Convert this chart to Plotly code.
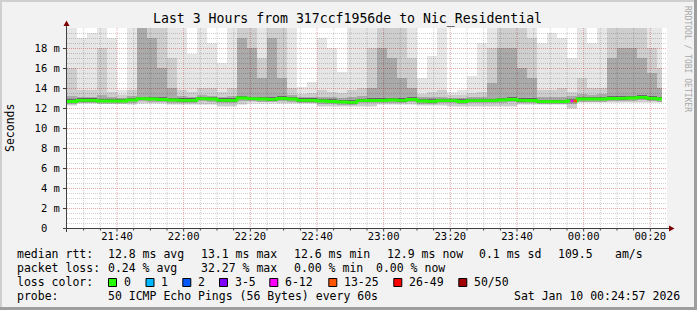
import plotly.graph_objects as go
import pandas as pd
import numpy as np

# ---------------- data ----------------
TITLE = "Last 3 Hours from 317ccf1956de to Nic_Residential"
col_start = pd.date_range("2026-01-09 21:25:00", periods=60, freq="3min")
data_end = pd.Timestamp("2026-01-10 00:23:30")
x_range = ["2026-01-09 21:25:00", "2026-01-10 00:25:00"]

# smoke (ms): top of light smoke, top of mid smoke, top of dark smoke, bottom of smoke
smoke_max = [20, 19, 19.5, 20, 19, 13.8, 20, 20, 20, 20,
             20, 20, 17.4, 20, 18.5, 16.5, 20, 20, 20, 20,
             20, 20, 20, 14.1, 14.6, 19, 18, 15.6, 20, 20,
             20, 20, 20, 20, 20, 15, 17.2, 20, 13.6, 13.8,
             15.2, 18.5, 20, 20, 20, 20, 20, 18.5, 19.5, 19,
             17, 20, 18.5, 20, 20, 20, 20, 20, 20, 20]
smoke_mid = [16, 13.8, 13.8, 18, 13.6, 13.3, 13.8, 20, 20, 20,
             17, 13.8, 13.6, 14, 14, 13.6, 14, 20, 20, 17,
             20, 20, 14, 13.4, 13.5, 13.8, 13.6, 13.5, 13.8, 14,
             18, 20, 20, 20, 17, 13.4, 13.6, 13.8, 13.3, 13.3,
             13.5, 13.6, 18, 20, 20, 20, 19, 13.8, 13.8, 14,
             13.6, 15, 14, 14, 20, 20, 20, 20, 18, 16]
smoke_dark = [13.2, 13.15, 13.15, 13.3, 13.15, 13.05, 13.25, 20, 19, 16,
              14, 13.2, 13.15, 13.3, 13.25, 13.15, 13.2, 19, 18, 15,
              19, 15, 13.3, 13.1, 13.1, 13.15, 13.1, 13.05, 13.1, 13.2,
              14, 18, 17, 15, 14, 13.1, 13.1, 13.15, 13.05, 13.05,
              13.1, 13.15, 14.5, 18, 18, 16, 15, 13.15, 13.15, 13.15,
              13.2, 13.4, 13.3, 13.4, 17, 18, 18, 17, 15.5, 14]
smoke_low = [12.23, 12.4, 12.4, 12.4, 12.4, 12.4, 12.3, 12.4, 12.4, 12.4,
             12.3, 12.3, 12.3, 12.3, 12.3, 12.13, 12.13, 12.3, 12.45, 12.45,
             12.45, 12.4, 12.4, 12.4, 12.4, 12.13, 12.13, 12.13, 12.13, 12.13,
             12.07, 12.3, 12.3, 12.3, 12.3, 12.23, 12.23, 12.23, 12.13, 12.13,
             12.13, 12.13, 12.13, 12.13, 12.13, 12.33, 12.33, 12.27, 12.27, 12.27,
             11.9, 12.5, 12.5, 12.5, 12.5, 12.5, 12.5, 12.5, 12.5, 12.5]
median_rtt = [12.65, 12.77, 12.77, 12.7, 12.7, 12.7, 12.8, 12.93, 12.9, 12.85,
              12.8, 12.77, 12.77, 12.93, 12.9, 12.77, 12.77, 13.0, 12.93, 12.9,
              12.87, 12.95, 12.9, 12.77, 12.77, 12.7, 12.65, 12.6, 12.57, 12.73,
              12.75, 12.75, 12.8, 12.77, 12.85, 12.7, 12.67, 12.73, 12.73, 12.65,
              12.73, 12.73, 12.73, 12.8, 12.85, 12.77, 12.75, 12.63, 12.63, 12.63,
              12.7, 12.9, 12.9, 12.9, 12.95, 12.97, 13.0, 13.07, 12.97, 12.9]

loss_start = ["2026-01-09 23:56:00", "2026-01-09 23:57:00"]
loss_end = ["2026-01-09 23:57:00", "2026-01-09 23:58:00"]
loss_count = [8, 16]

loss_labels = ["0", "1", "2", "3-5", "6-12", "13-25", "26-49", "50/50"]
loss_upper = [0, 1, 2, 5, 12, 25, 49, 50]
loss_colors = ["#26ff00", "#00b8ff", "#0059ff", "#7e00ff", "#ff00ff", "#ff5500", "#ff0000", "#a10000"]

y_ticks = [0, 2, 4, 6, 8, 10, 12, 14, 16, 18]
y_ticktext = ["0\u00a0\u00a0"] + [f"{v} m" for v in y_ticks[1:]]

rtt_stats = ["12.8 ms avg", "13.1 ms max", "12.6 ms min", "12.9 ms now", "0.1 ms sd", "109.5", "am/s"]
loss_stats = ["0.24 % avg", "32.27 % max", "0.00 % min", "0.00 % now"]
probe_text = "50 ICMP Echo Pings (56 Bytes) every 60s"
stamp_text = "Sat Jan 10 00:24:57 2026"

# ---------------- geometry helpers (pixels -> paper) ----------------
W, H = 697, 310
PL, PR, PT, PB = 67, 667, 28, 228
def px(x):
    return (x - PL) / (PR - PL)
def py(y):
    return (PB - y) / (PB - PT)

MONO = "DejaVu Sans Mono"

edges = list(col_start) + [data_end]
widths = [(edges[i + 1] - edges[i]).total_seconds() * 1000 for i in range(len(col_start))]
centers = [edges[i] + (edges[i + 1] - edges[i]) / 2 for i in range(len(col_start))]

med = np.array(median_rtt)
low = np.array(smoke_low)

fig = go.Figure()

def band(lo, hi, color):
    lo = np.asarray(lo, dtype=float)
    hi = np.asarray(hi, dtype=float)
    fig.add_trace(go.Bar(x=centers, y=hi - lo, base=lo, width=widths,
                         marker=dict(color=color, line=dict(width=0)),
                         hoverinfo="skip", showlegend=False))

band(low, smoke_max, "rgba(0,0,0,0.098)")
band(low + 0.12, smoke_mid, "rgba(0,0,0,0.10)")
band(med - 0.25, smoke_dark, "rgba(0,0,0,0.174)")
band(med - 0.12, med + 0.22, "rgba(0,0,0,0.36)")

fig.add_trace(go.Scatter(x=edges, y=list(median_rtt) + [median_rtt[-1]], mode="lines",
                         line=dict(color=loss_colors[0], width=2.8, shape="hv"),
                         hoverinfo="skip", showlegend=False))

def loss_color(n):
    for up, c in zip(loss_upper, loss_colors):
        if n <= up:
            return c
    return loss_colors[-1]

for s, e, n in zip(loss_start, loss_end, loss_count):
    ts = pd.Timestamp(s)
    idx = max(i for i in range(len(col_start)) if col_start[i] <= ts)
    fig.add_trace(go.Scatter(x=[s, e], y=[median_rtt[idx]] * 2, mode="lines",
                             line=dict(color=loss_color(n), width=2.8),
                             hoverinfo="skip", showlegend=False))

grid_minor = "rgba(143,143,143,0.42)"
grid_major = "rgba(222,80,80,0.5)"

y_minor = [v for v in np.arange(0.5, 20.0, 0.5) if abs(v / 2 - round(v / 2)) > 1e-9]

fig.update_layout(
    width=W, height=H,
    margin=dict(l=PL, r=W - PR, t=PT, b=H - PB),
    paper_bgcolor="#f2f2f2", plot_bgcolor="#ffffff",
    barmode="overlay", bargap=0,
    showlegend=False,
    font=dict(family=MONO, color="#000000"),
    xaxis=dict(type="date", range=x_range, tickformat="%H:%M",
               tick0="2026-01-09 21:40:00", dtick=1200000,
               showgrid=False, ticks="",
               tickfont=dict(family=MONO, size=10.5, color="#000"),
               showline=False, zeroline=False, fixedrange=True),
    yaxis=dict(range=[0, 20], tickvals=y_ticks, ticktext=y_ticktext,
               showgrid=True, gridcolor=grid_major, griddash="1px,1px", gridwidth=1,
               ticks="outside", ticklen=3, tickcolor="#404040",
               ticklabelstandoff=1,
               tickfont=dict(family=MONO, size=10.5, color="#000"),
               minor=dict(tickmode="array", tickvals=y_minor, showgrid=True,
                          gridcolor=grid_minor, griddash="1px,1px", gridwidth=1),
               showline=False, zeroline=False, fixedrange=True),
)

shapes = []
def line_px(x0, y0, x1, y1, color, width, layer="above", dash="solid"):
    shapes.append(dict(type="line", xref="paper", yref="paper",
                       x0=px(x0), y0=py(y0), x1=px(x1), y1=py(y1),
                       line=dict(color=color, width=width, dash=dash), layer=layer))
def poly_px(points, color):
    d = "M " + " L ".join(f"{px(a)},{py(b)}" for a, b in points) + " Z"
    shapes.append(dict(type="path", xref="paper", yref="paper", path=d,
                       fillcolor=color, line=dict(width=0), layer="above"))

# vertical grid (below the smoke) and x tick marks
t0 = pd.Timestamp(x_range[0]); t1 = pd.Timestamp(x_range[1])
span = (t1 - t0).total_seconds()
for t in pd.date_range(t0, t1, freq="5min"):
    xp = PL + (t - t0).total_seconds() / span * (PR - PL)
    if xp <= PL + 0.5 or xp >= PR - 0.5:
        continue
    major = (t.minute % 20 == 0)
    line_px(xp, PT, xp, PB, grid_major if major else grid_minor, 1, layer="below", dash="1px,1px")
    line_px(xp, PB, xp, PB + (3.5 if major else 2.5), "#404040", 1)

# frame shading
line_px(0, 1, W, 1, "#cfcfcf", 2)
line_px(1, 0, 1, H, "#cfcfcf", 2)
line_px(0, H - 1.5, W, H - 1.5, "#9e9e9e", 3)
line_px(W - 1.5, 0, W - 1.5, H, "#9e9e9e", 3)

# axes with arrows
line_px(63, 228.5, 670, 228.5, "#404040", 1)
line_px(66.5, 232, 66.5, 24, "#404040", 1)
poly_px([(63.5, 26), (66.5, 20.5), (69.5, 26)], "#7f0000")
poly_px([(669, 225.5), (674.5, 228.5), (669, 231.5)], "#7f0000")

annotations = []
def text_px(x, y, s, size=11.5, anchor="left", color="#000000", angle=0):
    annotations.append(dict(xref="paper", yref="paper", x=px(x), y=py(y), text=s,
                            showarrow=False, xanchor=anchor, yanchor="middle",
                            borderpad=0, textangle=angle,
                            font=dict(family=MONO, size=size, color=color)))

text_px(347.5, 19, TITLE, size=13.2, anchor="center")
text_px(10, 128, "Seconds", size=11.5, anchor="center", angle=-90)
text_px(688, 59, "RRDTOOL / TOBI OETIKER", size=8, anchor="center", color="#a8a8a8", angle=90)

L1, L2, L3, L4 = 254.3, 268.3, 282.3, 295.7
text_px(16, L1, "median rtt:")
for s, x in zip(rtt_stats, [106.5, 199.5, 292.5, 385.5, 477.8, 557.3, 613.8]):
    text_px(x, L1, s)
text_px(16, L2, "packet loss:")
for s, x in zip(loss_stats, [106.5, 199.5, 292.5, 374.5]):
    text_px(x, L2, s)
text_px(16, L3, "loss color:")
for lab, col, x in zip(loss_labels, loss_colors, [108, 145.5, 182.3, 219, 269.3, 328.3, 393.3, 458.3]):
    shapes.append(dict(type="rect", xref="paper", yref="paper",
                       x0=px(x + 0.5), x1=px(x + 8.5), y0=py(278.5), y1=py(286.5),
                       fillcolor=col, line=dict(color="#000000", width=1), layer="above"))
    text_px(x + 14.5, L3, lab)
text_px(16, L4, "probe:")
text_px(106.5, L4, probe_text)
text_px(512.8, L4, stamp_text)

fig.update_layout(shapes=shapes, annotations=annotations)
fig.write_html("out.html")
